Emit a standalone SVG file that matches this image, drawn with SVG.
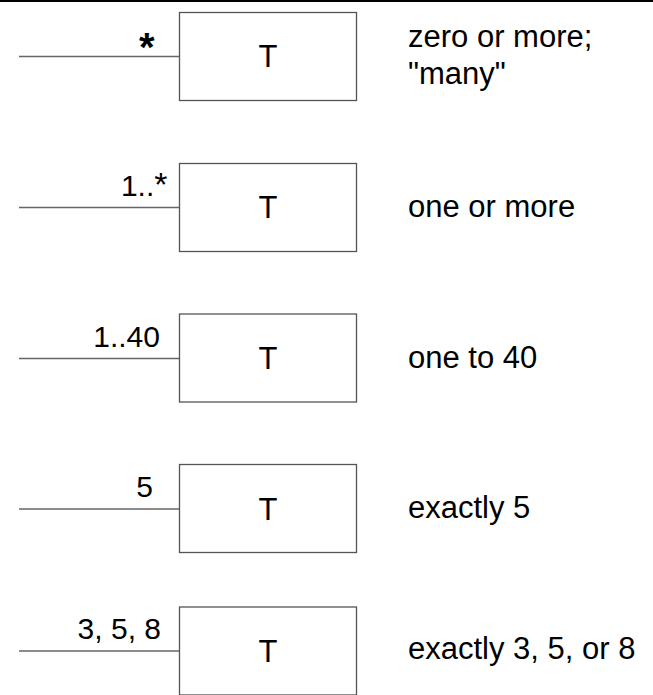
<svg xmlns="http://www.w3.org/2000/svg" width="653" height="695" viewBox="0 0 653 695">
<style>
.box{fill:#fff;stroke:#555;stroke-width:1.3}
.ln{stroke:#666;stroke-width:1.3;fill:none}
.t{font-family:"Liberation Sans",Arial,sans-serif;font-size:30px;fill:#000}
.c{text-anchor:middle;font-size:31px}
.e{text-anchor:end}
.d{font-size:31px}
</style>
<rect x="0" y="0" width="653" height="2" fill="#000"/>
<g id="connectors">
<line class="ln" x1="19" y1="56.5" x2="179.5" y2="56.5"/>
<line class="ln" x1="19" y1="207.5" x2="179.5" y2="207.5"/>
<line class="ln" x1="19" y1="358.5" x2="179.5" y2="358.5"/>
<line class="ln" x1="19" y1="509" x2="179.5" y2="509"/>
<line class="ln" x1="19" y1="651" x2="179.5" y2="651"/>
<text class="t e" x="154.5" y="61" style="font-weight:bold;font-size:40px">*</text>
<text class="t e" x="167.5" y="195.5">1..<tspan style="font-size:34px">*</tspan></text>
<text class="t e" x="160" y="346.5">1..40</text>
<text class="t e" x="153" y="496.5">5</text>
<text class="t e" x="161" y="638.5">3, 5, 8</text>
</g>
<g id="node1">
<rect class="box" x="179.5" y="12.5" width="177" height="88"/>
<text class="t c" x="268" y="67">T</text>
<text class="t d" x="408" y="46.5">zero or more;</text>
<text class="t d" x="408" y="83.5">"many"</text>
</g>
<g id="node2">
<rect class="box" x="179.5" y="163.5" width="177" height="88"/>
<text class="t c" x="268" y="218">T</text>
<text class="t d" x="408" y="216.5">one or more</text>
</g>
<g id="node3">
<rect class="box" x="179.5" y="314" width="177" height="88"/>
<text class="t c" x="268" y="369">T</text>
<text class="t d" x="408" y="368">one to 40</text>
</g>
<g id="node4">
<rect class="box" x="179.5" y="464.5" width="177" height="88"/>
<text class="t c" x="268" y="519.5">T</text>
<text class="t d" x="408" y="517.5">exactly 5</text>
</g>
<g id="node5">
<rect class="box" x="179.5" y="607" width="177" height="88"/>
<text class="t c" x="268" y="662">T</text>
<text class="t d" x="408" y="659">exactly 3, 5, or 8</text>
</g>
</svg>
